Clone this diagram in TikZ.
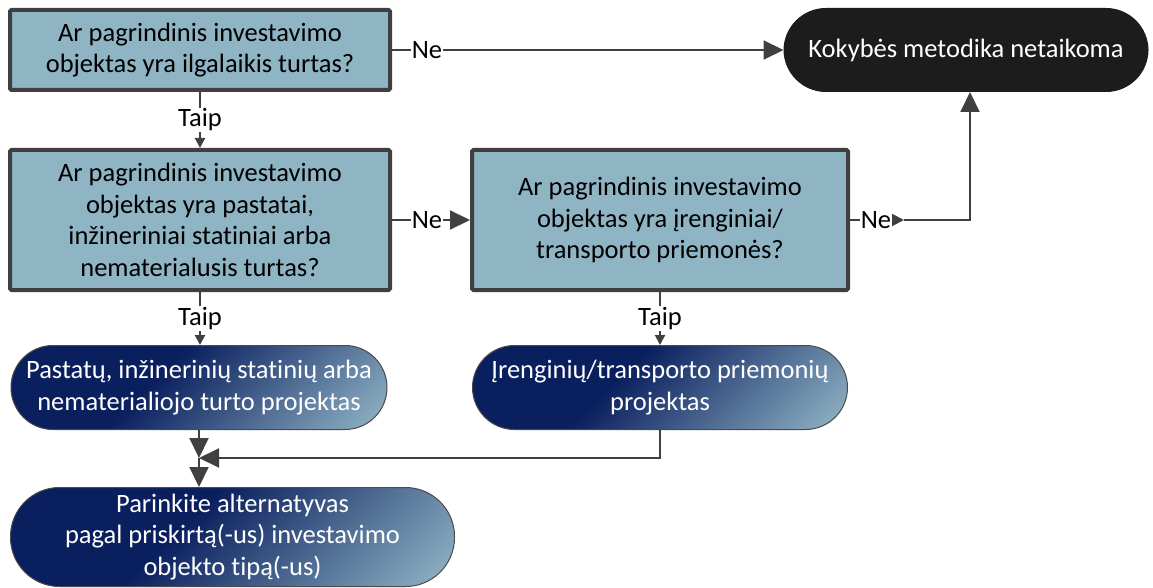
\documentclass[tikz,border=0pt]{standalone}
\usepackage{fontspec}
\setmainfont{Carlito}[Ligatures={NoCommon}]
\usetikzlibrary{arrows.meta,calc}
\definecolor{boxfill}{HTML}{8FB4C4}
\definecolor{boxline}{HTML}{3F3F3F}
\definecolor{navy}{HTML}{0A1F5E}
\definecolor{lightb}{HTML}{93B7C7}
\definecolor{termblack}{HTML}{1C1C1C}
\definecolor{connc}{HTML}{404040}
\definecolor{gline}{HTML}{4A4A4A}
\pgfdeclarehorizontalshading{navyshade}{100bp}{color(0bp)=(navy); color(42bp)=(navy); color(85bp)=(lightb); color(100bp)=(lightb)}
\tikzset{
  qbox/.style={draw=boxline, line width=4pt, fill=boxfill, align=center, inner sep=0pt, rounded corners=1.5pt, font=\fontsize{26.5}{31.5}\selectfont},
  gbox/.style={draw=gline, line width=1pt, shading=navyshade, shading angle=-45, text=white, align=center, inner sep=0pt, font=\fontsize{26.5}{31.5}\selectfont},
  termbox/.style={fill=termblack, draw=termblack, line width=1pt, text=white, align=center, inner sep=0pt, rounded corners=42pt, font=\fontsize{26.5}{31.5}\selectfont},
  conn/.style={draw=connc, line width=2pt},
  bigarrow/.style={-{Triangle[length=20pt,width=19pt]}},
  smallarrow/.style={-{Triangle[length=10pt,width=10pt]}},
  lbl/.style={fill=white, inner sep=1pt, text=black, font=\fontsize{26.5}{30}\selectfont}
}
\begin{document}
\begin{tikzpicture}[x=1pt,y=-1pt]
\useasboundingbox (0,0) rectangle (1153,588);
% decision boxes
\node[qbox, minimum width=380pt, minimum height=80pt] (box1) at (200,50)
  {Ar pagrindinis investavimo\\objektas yra ilgalaikis turtas?};
\node[qbox, minimum width=380pt, minimum height=140pt] (box2) at (200,220)
  {Ar pagrindinis investavimo\\objektas yra pastatai,\\inžineriniai statiniai arba\\nematerialusis turtas?};
\node[qbox, minimum width=376pt, minimum height=140pt] (box3) at (660,220)
  {Ar pagrindinis investavimo\\objektas yra įrenginiai/\\transporto priemonės?};
% terminal
\node[termbox, minimum width=364pt, minimum height=83pt] (black) at (966,50)
  {Kokybės metodika netaikoma};
% gradient boxes
\node[gbox, rounded corners=42pt, minimum width=376pt, minimum height=84pt] (grad1) at (199,387.5)
  {Pastatų, inžinerinių statinių arba\\nematerialiojo turto projektas};
\node[gbox, rounded corners=42pt, minimum width=375pt, minimum height=84pt] (grad2) at (660,387.5)
  {Įrenginių/transporto priemonių\\projektas};
\node[gbox, rounded corners=49pt, minimum width=444pt, minimum height=99pt] (grad3) at (232.5,537)
  {Parinkite alternatyvas\\pagal priskirtą(-us) investavimo\\objekto tipą(-us)};
% coordinates
\coordinate (m1) at (904,220);
\coordinate (c1) at (970,220);
\coordinate (merge) at (199,458);
\coordinate (c2) at (660,458);
% connectors
\draw[conn, bigarrow] (box1.east) -- (black.west);
\node[lbl] (ne1) at (427,50) {Ne};
\draw[conn, smallarrow] (box1.south) -- node[lbl] (taip1) {Taip} (box2.north);
\draw[conn, bigarrow] (box2.east) -- (box3.west);
\node[lbl] (ne2) at (427,220) {Ne};
\draw[conn, -{Triangle[length=12pt,width=12pt]}] (box3.east) -- (m1);
\node[lbl] (ne3) at (876,220) {Ne};
\draw[conn, bigarrow] (m1) -- (c1) -- (c1 |- black.south);
\draw[conn, smallarrow] (box2.south) -- node[lbl] (taip2) {Taip} (grad1.north -| box2.south);
\draw[conn, smallarrow] (box3.south) -- node[lbl] (taip3) {Taip} (grad2.north);
\draw[conn, bigarrow] (grad1.south) -- (merge);
\draw[conn, bigarrow] (grad2.south) -- (c2) -- (merge);
\draw[conn, bigarrow] (merge) -- (merge |- grad3.north);
\end{tikzpicture}
\end{document}
